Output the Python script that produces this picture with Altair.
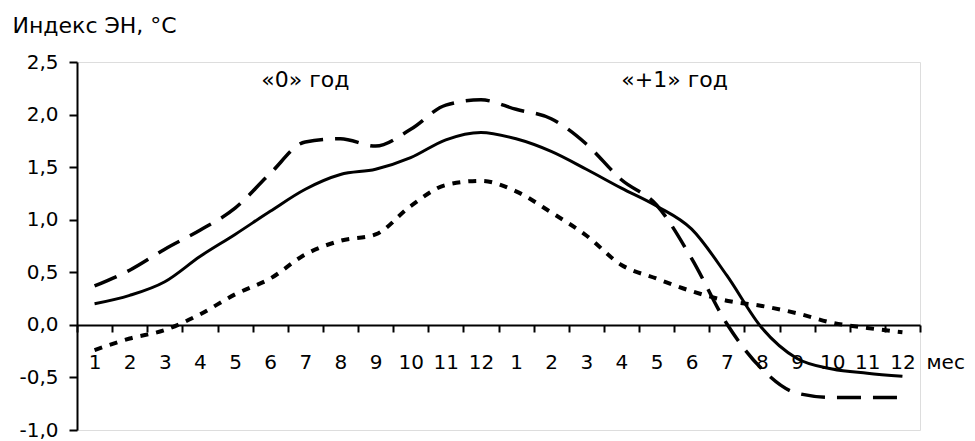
import json
import altair as alt
import pandas as pd

# x categories: months of year "0" and year "+1"
months = [str(m) for m in range(1, 13)] * 2
idx = list(range(24))

# series values (°C)
solid = [0.20, 0.28, 0.41, 0.65, 0.86, 1.08, 1.29, 1.43, 1.48, 1.59, 1.76, 1.83,
         1.77, 1.65, 1.48, 1.30, 1.13, 0.91, 0.47, -0.03, -0.32, -0.42, -0.46, -0.49]
dashed = [0.37, 0.52, 0.72, 0.90, 1.11, 1.44, 1.74, 1.77, 1.70, 1.86, 2.09, 2.14,
          2.05, 1.96, 1.72, 1.38, 1.14, 0.63, 0.01, -0.42, -0.65, -0.69, -0.69, -0.69]
dotted = [-0.24, -0.13, -0.05, 0.10, 0.29, 0.44, 0.67, 0.80, 0.86, 1.13, 1.33, 1.37,
          1.27, 1.07, 0.85, 0.57, 0.44, 0.32, 0.23, 0.18, 0.11, 0.02, -0.03, -0.07]

y_ticks = [-1.0, -0.5, 0.0, 0.5, 1.0, 1.5, 2.0, 2.5]

annotations = ["«0» год", "«+1» год"]
annot_idx = [6, 16]
annot_val = [2.33, 2.33]

FONT = "DejaVu Sans"

df = pd.DataFrame({"idx": idx, "month": months, "solid": solid,
                   "dashed": dashed, "dotted": dotted})

x_enc = alt.X(
    "idx:O",
    scale=alt.Scale(paddingInner=0, paddingOuter=0),
    axis=alt.Axis(
        labelExpr=json.dumps(months, ensure_ascii=False) + "[datum.value]",
        labelAngle=0,
        labelFont=FONT, labelFontSize=20, labelColor="black",
        labelBaseline="top", labelPadding=20,
        tickBand="extent", tickSize=7, tickWidth=2, tickColor="black",
        domainColor="black", domainWidth=2,
        offset=-105,
        title="мес", titleFont=FONT, titleFontSize=20, titleFontWeight="normal",
        titleColor="black", titleAngle=0, titleAlign="left", titleBaseline="top",
        titleX=849, titleY=27,
        grid=False,
    ),
)

y_scale = alt.Scale(domain=[-1, 2.5], nice=False, zero=False)
y_axis = alt.Axis(
    values=y_ticks,
    labelExpr="(datum.value < 0 ? '-' : '') + replace(format(abs(datum.value), '.1f'), '.', ',')",
    labelFont=FONT, labelFontSize=20, labelColor="black", labelPadding=11,
    tickSize=8, tickWidth=2, tickColor="black",
    domainColor="black", domainWidth=2,
    title="Индекс ЭН, °С", titleFont=FONT, titleFontSize=22, titleFontWeight="normal",
    titleColor="black", titleAngle=0, titleAlign="left", titleBaseline="alphabetic",
    titleX=-65, titleY=-30,
    grid=False,
)

base = alt.Chart(df)

line_solid = base.mark_line(color="black", strokeWidth=3, interpolate="monotone").encode(
    x=x_enc, y=alt.Y("solid:Q", scale=y_scale, axis=y_axis)
)
line_dashed = base.mark_line(color="black", strokeWidth=3.5, interpolate="monotone",
                             strokeDash=[24, 12]).encode(
    x=alt.X("idx:O"), y=alt.Y("dashed:Q")
)
line_dotted = base.mark_line(color="black", strokeWidth=4, interpolate="monotone",
                             strokeDash=[8, 8]).encode(
    x=alt.X("idx:O"), y=alt.Y("dotted:Q")
)

adf = pd.DataFrame({"text": annotations, "idx": annot_idx, "value": annot_val})
t0 = alt.Chart(adf.iloc[[0]]).mark_text(font=FONT, fontSize=22, color="black",
                                        align="center", baseline="middle").encode(
    x=alt.X("idx:O"), y=alt.Y("value:Q"), text="text:N"
)
t1 = alt.Chart(adf.iloc[[1]]).mark_text(font=FONT, fontSize=22, color="black",
                                        align="center", baseline="middle", dx=18).encode(
    x=alt.X("idx:O"), y=alt.Y("value:Q"), text="text:N"
)

chart = alt.layer(line_solid, line_dashed, line_dotted, t0, t1).properties(
    width=843, height=368,
    autosize=alt.AutoSizeParams(type="none"),
    padding={"left": 69, "top": 54, "right": 47, "bottom": 10},
).configure_view(stroke=None).configure(background="white")

chart.save("out.html", embed_options={"renderer": "svg", "actions": False})
